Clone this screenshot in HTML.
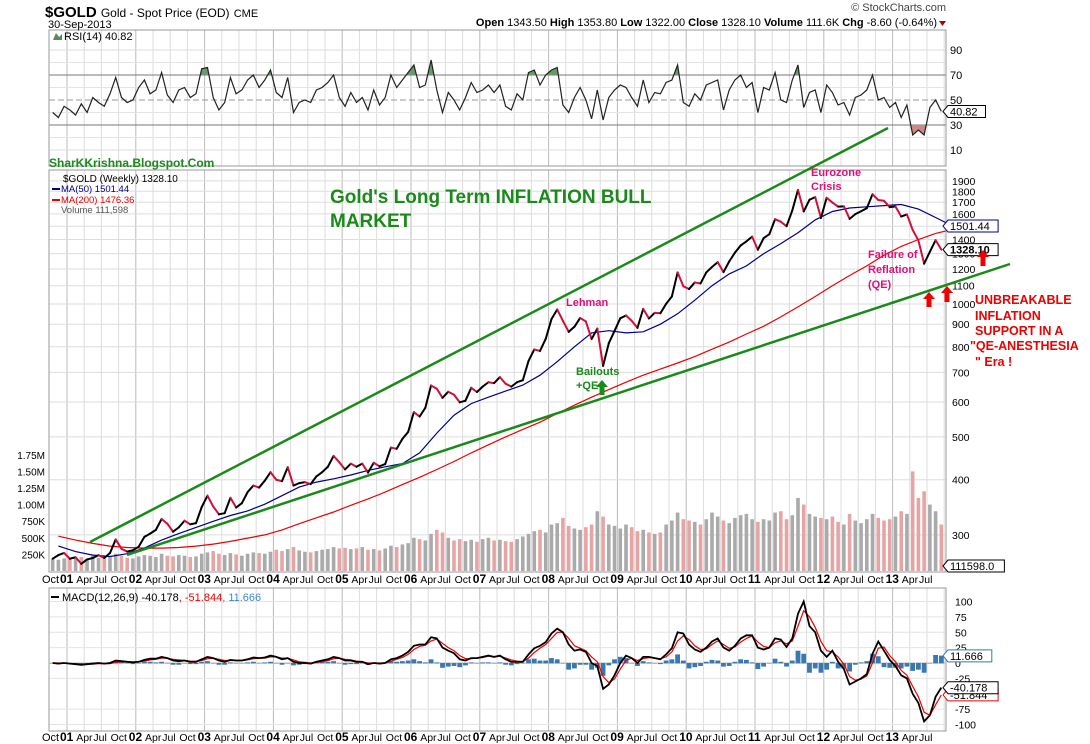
<!DOCTYPE html>
<html><head><meta charset="utf-8">
<style>
html,body{margin:0;padding:0;background:#fff;}
svg{display:block;font-family:"Liberation Sans",Arial,sans-serif;}
</style></head>
<body>
<svg id="chart" width="1090" height="744" viewBox="0 0 1090 744" xmlns="http://www.w3.org/2000/svg">
<rect width="1090" height="744" fill="#fff"/>
<g id="grid"></g>
<g id="vol"></g>
<g id="marks"></g>
<g id="frames">
<rect x="49" y="30" width="897" height="136" fill="none" stroke="#999"/>
<rect x="49" y="170" width="897" height="402" fill="none" stroke="#999"/>
<rect x="49" y="588" width="897" height="143" fill="none" stroke="#999"/>
</g>
<g id="labels" font-size="11"></g>
<text x="45" y="17" font-size="15" font-weight="bold">$GOLD <tspan font-size="12" font-weight="normal">Gold - Spot Price (EOD)</tspan> <tspan font-size="11" font-weight="normal">CME</tspan></text>
<text x="48" y="28" font-size="11">30-Sep-2013</text>
<text x="946" y="11" font-size="11" fill="#444" text-anchor="end">© StockCharts.com</text>
<text x="937" y="26" font-size="11" text-anchor="end"><tspan font-weight="bold">Open</tspan> 1343.50 <tspan font-weight="bold">High</tspan> 1353.80 <tspan font-weight="bold">Low</tspan> 1322.00 <tspan font-weight="bold">Close</tspan> 1328.10 <tspan font-weight="bold">Volume</tspan> 111.6K <tspan font-weight="bold">Chg</tspan> -8.60 (-0.64%)</text>
<path d="M939,21 l7,0 l-3.5,5z" fill="#a00"/>
<text x="64" y="40" font-size="11">RSI(14) 40.82</text>
<path d="M53,40 l3,-7 l3,4 l3,-3 l0,6z" fill="#5a8a5a"/>
<text x="49" y="167" font-size="12" font-weight="bold" fill="#1a8a1a">SharKKrishna.Blogspot.Com</text>
<text x="63" y="182" font-size="10">$GOLD (Weekly) 1328.10</text>
<line x1="52" y1="189" x2="60" y2="189" stroke="#00008b" stroke-width="2"/><text x="61" y="192" font-size="9.5" fill="#00008b">MA(50) 1501.44</text>
<line x1="52" y1="200" x2="60" y2="200" stroke="#e00" stroke-width="2"/><text x="61" y="203" font-size="9.5" fill="#e00">MA(200) 1476.36</text>
<text x="61" y="213" font-size="9.5" fill="#555">Volume 111,598</text>
<text x="62" y="601" font-size="11">MACD(12,26,9) -40.178<tspan fill="#e00">, -51.844</tspan><tspan fill="#3a8ac8">, 11.666</tspan></text>
<line x1="51" y1="597" x2="59" y2="597" stroke="#000" stroke-width="2"/>
<g stroke="#1a8a1a" stroke-width="2.5">
<line x1="90" y1="542" x2="888" y2="128"/>
<line x1="127" y1="555" x2="1010" y2="264"/>
</g>
<text x="330" y="203" font-size="19" font-weight="bold" fill="#1a8a1a">Gold's Long Term INFLATION BULL</text>
<text x="330" y="227" font-size="19" font-weight="bold" fill="#1a8a1a">MARKET</text>
<g font-size="11" font-weight="bold" fill="#e0107a">
<text x="566" y="306">Lehman</text>
<text x="811" y="176">Eurozone</text><text x="811" y="190">Crisis</text>
<text x="868" y="258">Failure of</text><text x="868" y="273">Reflation</text><text x="868" y="288">(QE)</text>
</g>
<g font-size="11" font-weight="bold" fill="#1a8a1a"><text x="576" y="375">Bailouts</text><text x="576" y="389">+QE</text></g>
<path d="M602,380 l6,7 h-3.5 v8 h-5 v-8 h-3.5z" fill="#1a8a1a"/>
<g fill="#e00">
<path d="M929,292 l6,7 h-3.5 v8 h-5 v-8 h-3.5z"/>
<path d="M947,286 l6,7 h-3.5 v9 h-5 v-9 h-3.5z"/>
<path d="M983,250 l6,7 h-3.5 v9 h-5 v-9 h-3.5z"/>
</g>
<g font-size="12.5" font-weight="bold" fill="#e00">
<text x="975" y="304">UNBREAKABLE</text><text x="975" y="320">INFLATION</text><text x="975" y="335">SUPPORT IN A</text><text x="970" y="350">"QE-ANESTHESIA</text><text x="975" y="366">" Era !</text>
</g>
</svg>
<script>
const closes=[265,270,273,
265,267,258,264,266,270,266,273,293,279,275,277,
282,297,302,308,326,318,305,312,323,317,319,347,
368,348,334,336,364,346,354,375,388,384,398,416,
400,397,427,388,393,395,391,407,416,428,453,438,
422,435,428,435,415,437,429,434,473,470,495,513,
569,556,582,654,643,613,633,623,599,604,646,632,
650,665,662,683,660,650,665,672,743,789,783,834,
924,972,916,865,888,930,913,833,880,724,815,869,
928,942,916,883,975,927,955,953,1001,1040,1179,1097,
1081,1119,1113,1179,1213,1244,1181,1248,1307,1357,1386,1421,
1327,1409,1439,1556,1536,1500,1628,1813,1620,1722,1746,1566,
1740,1697,1662,1664,1559,1598,1622,1648,1773,1720,1713,1657,
1663,1578,1595,1472,1393,1234,1313,1395,1328];
const ma50=[283,275,270,268,272,280,292,302,312,322,332,340,352,368,385,395,402,410,420,428,435,460,510,560,595,615,635,655,690,740,800,860,870,860,865,900,950,1020,1100,1170,1220,1300,1370,1450,1550,1620,1650,1660,1670,1680,1640,1570,1501];
const ma200=[298,292,287,283,281,280,280,281,283,286,290,295,300,308,318,328,338,350,362,375,390,405,422,440,460,480,500,520,540,565,590,615,640,665,690,712,735,760,790,820,855,890,935,985,1040,1100,1160,1220,1290,1350,1400,1445,1476];
const volumeK=[180,170,190,
200,190,210,180,230,200,190,210,260,230,200,190,
220,240,230,210,260,230,220,240,230,210,220,260,
280,300,260,240,270,250,230,260,280,270,260,290,
320,300,330,360,310,290,280,300,320,330,360,340,
350,330,340,360,320,330,310,340,380,360,400,420,
500,480,460,560,620,580,500,460,480,450,470,440,
480,500,460,470,450,440,480,520,560,600,620,580,
700,720,800,680,640,620,660,700,900,820,700,680,
640,700,660,600,620,580,560,580,700,760,880,780,
760,740,700,780,880,820,760,720,800,840,860,780,
740,780,760,880,900,780,840,1100,1000,860,820,800,
780,820,740,700,860,760,720,780,860,800,760,780,
820,900,860,1500,1100,1200,1000,900,700];
const rsi=[40,36,45,
42,38,47,40,52,48,45,55,68,52,48,50,
60,66,55,58,72,54,48,58,60,52,55,75,
76,52,42,48,68,55,58,66,70,60,66,74,
56,52,68,40,48,50,48,58,60,64,70,52,
45,56,48,52,42,58,46,52,70,60,66,72,
78,60,62,82,58,40,56,50,42,52,64,56,
58,62,56,62,45,42,55,50,72,74,62,70,
74,76,46,40,52,60,50,35,58,34,52,58,
62,60,52,45,66,48,56,55,64,66,78,48,
45,55,50,62,64,66,42,58,66,70,60,64,
40,60,58,72,50,48,66,78,44,56,58,40,
62,56,46,48,38,52,54,58,70,50,52,44,
48,36,46,22,26,22,44,50,41];
const macd=[0,-1,0,
-1,-2,-3,-2,-1,0,-1,0,4,3,2,1,
2,5,7,7,10,8,4,3,4,2,2,6,
10,8,4,2,5,4,4,6,9,8,9,12,
10,6,8,2,0,0,-1,2,4,6,10,8,
4,4,2,2,-2,0,-1,0,6,8,12,18,
28,30,30,42,40,25,20,16,6,4,8,8,
10,12,10,12,6,2,2,2,14,24,28,34,
48,56,50,30,20,22,18,0,-5,-42,-35,-20,
0,12,8,0,10,10,8,6,14,24,50,48,
30,22,18,25,35,40,25,20,28,40,45,45,
25,22,25,40,38,26,40,80,100,60,50,20,
10,20,2,-10,-35,-30,-25,-18,15,35,20,5,
-5,-20,-25,-50,-65,-95,-85,-55,-40];
const signal=[0,0,0,
-1,-1,-2,-2,-2,-1,-1,-1,1,2,2,2,
2,3,5,6,8,8,6,5,4,3,3,4,
7,8,6,4,4,4,4,5,7,8,8,10,
10,8,8,5,2,1,0,1,2,4,7,8,
6,5,3,2,0,0,0,0,3,6,9,14,
22,27,29,36,39,32,25,20,12,7,7,8,
9,11,10,11,8,5,3,2,8,17,24,30,
40,50,50,40,28,24,20,10,2,-22,-32,-26,
-10,4,8,4,7,9,8,7,10,18,36,44,
38,28,22,23,30,36,30,24,26,34,40,44,
34,27,25,33,36,31,36,60,85,75,58,35,
20,18,10,-2,-22,-28,-26,-21,0,24,26,12,
2,-12,-20,-38,-55,-80,-85,-68,-52];
const priceTicks=[1900,1800,1700,1600,1500,1400,1300,1200,1100,1000,900,800,700,600,500,400,300];
const volTicks=['250K','500K','750K','1.00M','1.25M','1.50M','1.75M'];
const rsiTicks=[90,70,50,30,10];
const macdTicks=[100,75,50,25,0,-25,-75,-100];
const yearLabels=['01','02','03','04','05','06','07','08','09','10','11','12','13'];

const NS='http://www.w3.org/2000/svg';
function mk(tag,attrs,parent){const e=document.createElementNS(NS,tag);for(const k in attrs)e.setAttribute(k,attrs[k]);parent.appendChild(e);return e;}
const X=t=>67+t*68.8;
const tM=i=>(i-3+0.5)/12;
const tQ=i=>(i-1+0.5)/4;
const YP=p=>304+441.6*Math.log10(1000/p);
const YV=v=>571-v/250*16.6;
const YR=r=>100-(r-50)*1.25;
const YM=m=>663-m*0.615;
const grid=document.getElementById('grid'),marks=document.getElementById('marks'),lab=document.getElementById('labels'),vol=document.getElementById('vol');

for(let y=0;y<13;y++){for(let q=0;q<4;q++){const x=X(y+q/4);if(x<50||x>945)continue;
 [[30,166],[170,572],[588,731]].forEach(([a,b])=>{const l=mk('line',{x1:x,y1:a,x2:x,y2:b,stroke:q==0?'#bbb':'#ddd'},grid);});}}
rsiTicks.forEach(r=>{const y=YR(r);mk('line',{x1:49,y1:y,x2:946,y2:y,stroke:(r==70||r==30)?'#777':(r==50?'#999':'#ddd'),'stroke-dasharray':r==50?'6,3':'none'},grid);
 const t=mk('text',{x:950,y:y+4},lab);t.textContent=r;});
[40,60,80,20].forEach(r=>{const y=YR(r);mk('line',{x1:49,y1:y,x2:946,y2:y,stroke:'#e4e4e4'},grid);});
priceTicks.forEach(p=>{const y=YP(p);mk('line',{x1:49,y1:y,x2:946,y2:y,stroke:'#ddd'},grid);
 const t=mk('text',{x:952,y:y+4,'font-size':10.5},lab);t.textContent=p;});
volTicks.forEach((s,i)=>{const y=YV((i+1)*250);const t=mk('text',{x:45,y:y+4,'text-anchor':'end','font-size':10},lab);t.textContent=s;});
macdTicks.forEach(m=>{const y=YM(m);mk('line',{x1:49,y1:y,x2:946,y2:y,stroke:m==0?'#bbb':'#e4e4e4'},grid);
 const t=mk('text',{x:955,y:y+4,'font-size':10.5},lab);t.textContent=m;});
[583,741].forEach(yy=>{
 const o=mk('text',{x:42,y:yy},lab);o.textContent='Oct';
 yearLabels.forEach((s,i)=>{const x=X(i);
  const t=mk('text',{x:x-7,y:yy,'font-weight':'bold','font-size':12},lab);t.textContent=s;
  ['Apr','Jul','Oct'].forEach((m,k)=>{if(i==12&&k==2)return;const mt=mk('text',{x:X(i+(k+1)/4)-8,y:yy,'font-size':10.5},lab);mt.textContent=m;});
 });});

volumeK.forEach((v,i)=>{const x=X(tM(i));const up=i==0||closes[i]>=closes[i-1];
 const r=mk('rect',{x:x-1.8,y:YV(v),width:3.6,height:571-YV(v),fill:up?'#aaa':'#e6a4a4'},vol);
 });
let rp='';rsi.forEach((r,i)=>{rp+=(i?'L':'M')+X(tM(i)).toFixed(1)+','+YR(r).toFixed(1);});
const clipA=mk('clipPath',{id:'above70'},marks);mk('rect',{x:49,y:30,width:897,height:YR(70)-30},clipA);
const clipB=mk('clipPath',{id:'below30'},marks);mk('rect',{x:49,y:YR(30),width:897,height:166-YR(30)},clipB);
mk('path',{d:rp+'L'+X(tM(rsi.length-1))+','+YR(70)+'L'+X(tM(0))+','+YR(70)+'Z',fill:'#6a9a6a','clip-path':'url(#above70)'},marks);
mk('path',{d:rp+'L'+X(tM(rsi.length-1))+','+YR(30)+'L'+X(tM(0))+','+YR(30)+'Z',fill:'#c88','clip-path':'url(#below30)'},marks);
const rl=mk('path',{d:rp,fill:'none',stroke:'#222','stroke-width':1.2},marks);
function line(arr,tf,yf,col,w,name){let d='';arr.forEach((v,i)=>{d+=(i?'L':'M')+X(tf(i)).toFixed(1)+','+yf(v).toFixed(1);});const p=mk('path',{d:d,fill:'none',stroke:col,'stroke-width':w},marks);return p;}
line(ma200,tQ,YP,'#e00',1.2,'ma200-line');
line(ma50,tQ,YP,'#00008b',1.2,'ma50-line');
closes.forEach((c,i)=>{if(i==0)return;const s=mk('line',{x1:X(tM(i-1)),y1:YP(closes[i-1]),x2:X(tM(i)),y2:YP(c),stroke:c>=closes[i-1]?'#000':'#d0103a','stroke-width':2,'stroke-linecap':'round'},marks);
 });
macd.forEach((m,i)=>{const h=m-signal[i];const x=X(tM(i));const y0=YM(0),y1=YM(h);
 const r=mk('rect',{x:x-2.4,y:Math.min(y0,y1),width:4.8,height:Math.abs(y1-y0)+0.5,fill:'#3a78b0'},marks);});
line(signal,tM,YM,'#e00',1.2,'signal-line');
line(macd,tM,YM,'#000',1.8,'macd-line');

function tag(x,y,txt,col,bold){const g=mk('g',{},lab);
 const w=txt.length*6.3+6;mk('path',{d:`M${x},${y} l5,-6 h${w} v12 h-${w}z`,fill:'#fff',stroke:col},g);
 const t=mk('text',{x:x+7,y:y+4,'font-size':11,'font-weight':bold?'bold':'normal'},g);t.textContent=txt;}
tag(943,YR(40.82),'40.82','#000');
tag(943,YP(1501.44),'1501.44','#00008b');
tag(943,YP(1328.10),'1328.10','#000',true);
tag(943,566,'111598.0','#000');
tag(943,YM(11.666),'11.666','#3a78b0');
tag(943,YM(-51.844),'-51.844','#e00');
tag(943,YM(-40.178),'-40.178','#000');
</script>
</body></html>
